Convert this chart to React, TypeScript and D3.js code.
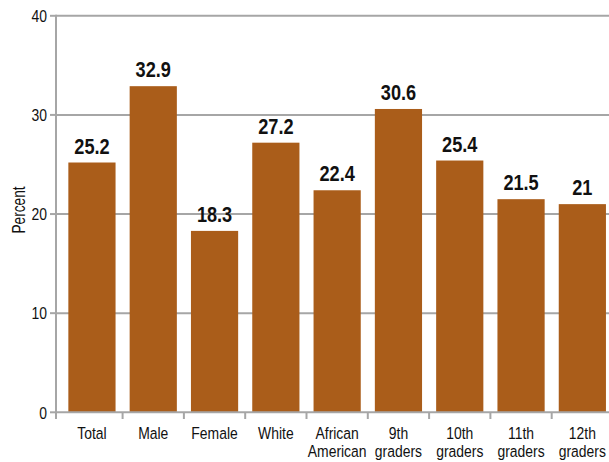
import React from "react";
import * as d3 from "d3";

// Share of students reporting the behaviour, by group
const categories: string[][] = [
  ["Total"],
  ["Male"],
  ["Female"],
  ["White"],
  ["African", "American"],
  ["9th", "graders"],
  ["10th", "graders"],
  ["11th", "graders"],
  ["12th", "graders"],
];
const values: number[] = [25.2, 32.9, 18.3, 27.2, 22.4, 30.6, 25.4, 21.5, 21];
const valueLabels: string[] = ["25.2", "32.9", "18.3", "27.2", "22.4", "30.6", "25.4", "21.5", "21"];
const yTicks: number[] = [0, 10, 20, 30, 40];
const yTitle = "Percent";

const W = 609;
const H = 462;
const axisX = 56;
const FONT = "'Liberation Sans', Arial, sans-serif";
const BAR = "#AA5D1A";
const GRID = "#A6A6A6";

type NTProps = {
  x: number;
  y: number;
  size: number;
  anchor?: "start" | "middle" | "end";
  bold?: boolean;
  rotate?: number;
  squeeze?: number;
  children: React.ReactNode;
};

// Condensed text: horizontal squeeze around the anchor point
function NarrowText({ x, y, size, anchor = "middle", bold, rotate = 0, squeeze = 0.82, children }: NTProps) {
  return (
    <text
      transform={`translate(${x},${y}) rotate(${rotate}) scale(${squeeze},1)`}
      textAnchor={anchor}
      fontSize={size}
      fontWeight={bold ? "bold" : "normal"}
      fill="#111"
    >
      {children}
    </text>
  );
}

export default function App() {
  const keys = categories.map((c) => c.join(" "));
  const x = d3
    .scaleBand<string>()
    .domain(keys)
    .range([61.3, 613])
    .paddingInner(0.23)
    .paddingOuter(0.115);
  const y = d3.scaleLinear().domain([0, 40]).range([412.3, 15.8]);
  const step = x.step();
  const start = 61.3;
  const cx = (k: string) => (x(k) as number) + x.bandwidth() / 2;

  return (
    <svg
      width={W}
      height={H}
      style={{ position: "absolute", left: 0, top: 0, background: "#fff" }}
      fontFamily={FONT}
    >
      {/* horizontal gridlines and y ticks */}
      {yTicks.map((t) => (
        <g key={t}>
          {t > 0 && (
            <line x1={axisX} x2={W} y1={y(t)} y2={y(t)} stroke={GRID} strokeWidth={2} />
          )}
          <line x1={50} x2={axisX} y1={y(t)} y2={y(t)} stroke={GRID} strokeWidth={2} />
          <NarrowText x={47} y={y(t) + 6.3} size={17} anchor="end">
            {t}
          </NarrowText>
        </g>
      ))}

      {/* bars */}
      {keys.map((k, i) => (
        <rect
          key={k}
          x={x(k)}
          y={y(values[i])}
          width={x.bandwidth()}
          height={y(0) - y(values[i])}
          fill={BAR}
        />
      ))}

      {/* axes */}
      <line x1={axisX} x2={axisX} y1={y(40) - 1} y2={419} stroke={GRID} strokeWidth={2} />
      <line x1={axisX - 1} x2={W} y1={y(0)} y2={y(0)} stroke={GRID} strokeWidth={2} />
      {keys.slice(1).map((_, i) => (
        <line
          key={i}
          x1={start + step * (i + 1)}
          x2={start + step * (i + 1)}
          y1={y(0)}
          y2={419}
          stroke={GRID}
          strokeWidth={2}
        />
      ))}

      {/* value labels */}
      {keys.map((k, i) => (
        <NarrowText key={k} x={cx(k)} y={y(values[i]) - 9} size={22} squeeze={0.825} bold>
          {valueLabels[i]}
        </NarrowText>
      ))}

      {/* category labels */}
      {categories.map((lines, i) =>
        lines.map((l, j) => (
          <NarrowText key={`${i}-${j}`} x={cx(keys[i])} y={439 + j * 18} size={17}>
            {l}
          </NarrowText>
        ))
      )}

      {/* y axis title */}
      <NarrowText x={25} y={210} size={17.5} squeeze={0.78} rotate={-90}>
        {yTitle}
      </NarrowText>
    </svg>
  );
}
